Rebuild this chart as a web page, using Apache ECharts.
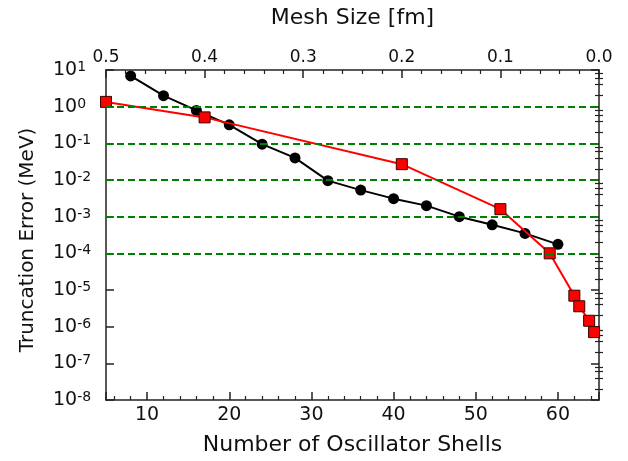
<!DOCTYPE html>
<html>
<head>
<meta charset="utf-8">
<script src="https://cdn.jsdelivr.net/npm/echarts@6/dist/echarts.min.js"></script>
<style>
html,body{margin:0;padding:0;background:#fff;}
#chart{width:628px;height:461px;}
</style>
</head>
<body>
<div id="chart"></div>
<script>
// Oscillator basis: number of shells vs truncation error (MeV)
const shells = [8, 12, 16, 20, 24, 28, 32, 36, 40, 44, 48, 52, 56, 60];
const shellErr = [6.9, 2.0, 0.79, 0.32, 0.095, 0.040, 0.0096, 0.0053, 0.0031, 0.0020, 0.0010, 0.00060, 0.00035, 0.000176];
// Mesh: mesh size (fm) vs truncation error (MeV)
const mesh = [0.5, 0.4, 0.2, 0.1, 0.05, 0.025, 0.02, 0.01, 0.005];
const meshErr = [1.35, 0.51, 0.027, 0.0016, 0.0001, 7.0e-6, 3.6e-6, 1.45e-6, 7.1e-7];
// Horizontal guide levels
const guideLevels = [1, 0.1, 0.01, 0.001, 0.0001];
// Decade exponents of the log axis and the minor-tick mantissas
const decades = [-8, -7, -6, -5, -4, -3, -2, -1, 0];
const minorMantissas = [2, 4, 6, 8];
const minorLogTicks = [];
decades.forEach(e => minorMantissas.forEach(m => minorLogTicks.push(+(m + 'e' + e))));

const FONT = 'DejaVu Sans';
const AX = '#222';

function logAxis(extra) {
  return Object.assign({
    type: 'log', logBase: 10, min: 1e-8, max: 10, splitNumber: 9,
    axisLine: {show: true, onZero: false, lineStyle: {color: AX, width: 1.5}},
    axisTick: {show: true, inside: true, length: 8, lineStyle: {color: AX, width: 1.5}},
    minorTick: {show: false},
    axisLabel: {show: false},
    splitLine: {show: false}
  }, extra);
}
function minorLogAxis(pos) {
  return logAxis({
    position: pos,
    axisLine: {show: false},
    axisTick: {show: true, inside: true, length: 4, customValues: minorLogTicks, lineStyle: {color: AX, width: 1.2}}
  });
}

const chart = echarts.init(document.getElementById('chart'), null, {renderer: 'canvas'});
chart.setOption({
  backgroundColor: '#fff',
  animation: false,
  grid: {left: 106, right: 29, top: 70, bottom: 59, containLabel: false},
  xAxis: [
    {
      type: 'value', position: 'bottom', min: 5, max: 65, splitNumber: 6,
      name: 'Number of Oscillator Shells', nameLocation: 'middle', nameGap: 34,
      nameTextStyle: {fontFamily: FONT, fontSize: 22, color: '#111'},
      axisLine: {show: true, onZero: false, lineStyle: {color: AX, width: 1.5}},
      axisTick: {show: true, inside: true, length: 8, lineStyle: {color: AX, width: 1.5}},
      minorTick: {show: true, splitNumber: 5, length: 4, lineStyle: {color: AX, width: 1.2}},
      axisLabel: {fontFamily: FONT, fontSize: 19, color: '#111', margin: 6, showMinLabel: false, showMaxLabel: false},
      splitLine: {show: false}
    },
    {
      type: 'value', position: 'top', min: 0, max: 0.5, interval: 0.1, inverse: true,
      name: 'Mesh Size [fm]', nameLocation: 'middle', nameGap: 41,
      nameTextStyle: {fontFamily: FONT, fontSize: 22, color: '#111'},
      axisLine: {show: true, onZero: false, lineStyle: {color: AX, width: 1.5}},
      axisTick: {show: true, inside: true, length: 8, lineStyle: {color: AX, width: 1.5}},
      minorTick: {show: true, splitNumber: 5, length: 4, lineStyle: {color: AX, width: 1.2}},
      axisLabel: {fontFamily: FONT, fontSize: 17, color: '#111', margin: 4, formatter: v => v.toFixed(1)},
      splitLine: {show: false}
    }
  ],
  yAxis: [
    logAxis({
      position: 'left',
      name: 'Truncation Error (MeV)', nameLocation: 'middle', nameGap: 68,
      nameTextStyle: {fontFamily: FONT, fontSize: 20, color: '#111', padding: [0, 10, 0, 0]},
      axisLabel: {
        show: true, align: 'left', margin: 53, color: '#111',
        formatter: v => '{b|10}{s|' + Math.round(Math.log10(v)) + '}',
        rich: {
          b: {fontFamily: FONT, fontSize: 19, lineHeight: 19, padding: [7, 0, 7, 0], color: '#111'},
          s: {fontFamily: FONT, fontSize: 14, lineHeight: 14, verticalAlign: 'top', color: '#111'}
        }
      }
    }),
    logAxis({position: 'right'}),
    minorLogAxis('left'),
    minorLogAxis('right')
  ],
  series: [
    {
      name: 'Oscillator', type: 'line', xAxisIndex: 0, yAxisIndex: 0, z: 2,
      data: shells.map((n, i) => [n, shellErr[i]]),
      symbol: 'circle', symbolSize: 11,
      itemStyle: {color: '#000'},
      lineStyle: {color: '#000', width: 2},
      markLine: {
        silent: true, symbol: ['none', 'none'], label: {show: false}, precision: 12, z: 6,
        lineStyle: {color: '#008000', width: 2, type: [7, 4]},
        emphasis: {disabled: true},
        data: guideLevels.map(v => ({yAxis: v}))
      }
    },
    {
      name: 'Mesh', type: 'line', xAxisIndex: 1, yAxisIndex: 0, z: 3,
      data: mesh.map((h, i) => [h, meshErr[i]]),
      symbol: 'rect', symbolSize: 11,
      itemStyle: {color: '#ff0000', borderColor: '#3a0000', borderWidth: 1},
      lineStyle: {color: '#ff0000', width: 2}
    }
  ]
});
</script>
</body>
</html>
